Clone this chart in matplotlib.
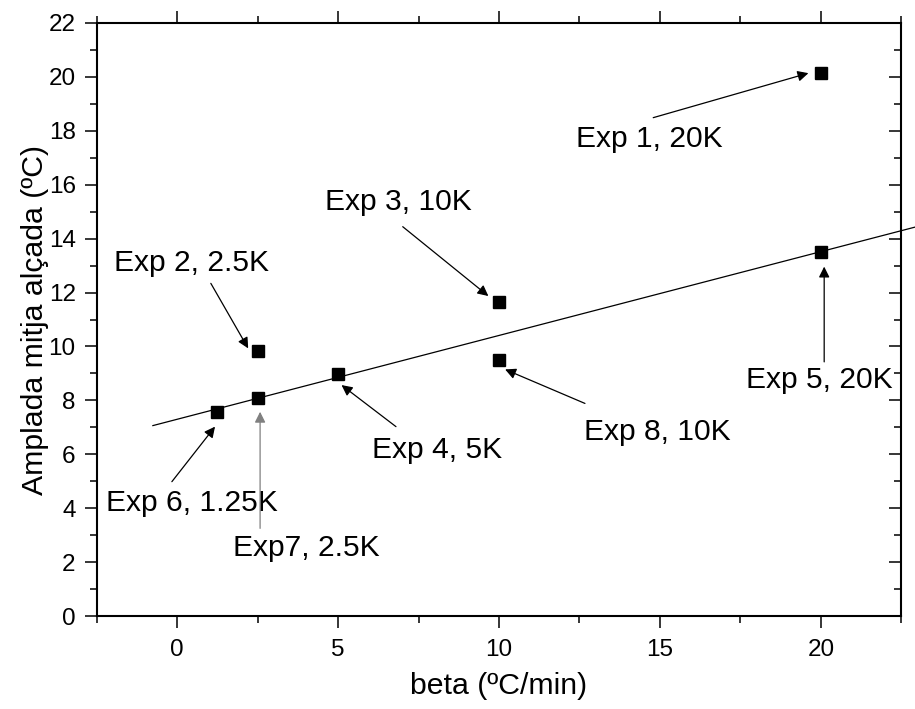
import numpy as np
import matplotlib
matplotlib.use('Agg')
import matplotlib.pyplot as plt
from matplotlib.ticker import MultipleLocator

plt.rcParams['font.family'] = ['Liberation Sans', 'DejaVu Sans']

# dades llegides del gràfic
exp_names = ['Exp 1, 20K', 'Exp 2, 2.5K', 'Exp 3, 10K', 'Exp 4, 5K',
             'Exp 5, 20K', 'Exp 6, 1.25K', 'Exp7, 2.5K', 'Exp 8, 10K']
beta = [20, 2.5, 10, 5, 20, 1.25, 2.5, 10]
amplada = [20.13, 9.84, 11.64, 8.98, 13.49, 7.57, 8.10, 9.50]
fit_idx = [3, 4, 5, 6]          # punts usats a l'ajust lineal
fit_range = [-0.75, 23.5]

# posició del text, cua i punta de cada fletxa (coordenades de dades)
text_pos = [(14.67, 17.68), (0.46, 13.08), (6.86, 15.37), (8.07, 6.16),
            (19.94, 8.76), (0.46, 4.19), (4.0, 2.52), (14.91, 6.84)]
arrow_tail = [(14.79, 18.48), (1.05, 12.34), (7.01, 14.44), (6.80, 7.03),
              (20.1, 9.43), (-0.16, 4.99), (2.58, 3.26), (12.67, 7.89)]
arrow_tip = [(19.61, 20.13), (2.21, 9.93), (9.67, 11.87), (5.11, 8.57),
             (20.1, 12.96), (1.18, 7.03), (2.58, 7.58), (10.19, 9.15)]
arrow_color = ['black'] * 6 + ['#808080', 'black']


def main():
    fig = plt.figure(figsize=(9.15, 7.09), dpi=100)
    ax = fig.add_axes([0.1055, 0.1307, 0.8797, 0.8373])

    # ajust lineal
    xs = np.array(beta)[fit_idx]
    ys = np.array(amplada)[fit_idx]
    k, b = np.polyfit(xs, ys, 1)
    fx = np.array(fit_range)
    ax.plot(fx, k * fx + b, color='black', lw=0.9, clip_on=False, zorder=2)

    ax.plot(beta, amplada, 's', color='black', ms=9, zorder=3)

    for name, tp, tail, tip, col in zip(exp_names, text_pos, arrow_tail, arrow_tip, arrow_color):
        ax.annotate('', xy=tip, xytext=tail,
                    arrowprops=dict(arrowstyle='-|>', color=col, lw=0.9,
                                    mutation_scale=16, shrinkA=0, shrinkB=0))
        ax.text(tp[0], tp[1], name, fontsize=21.6, ha='center', va='center')

    ax.set_xlim(-2.5, 22.5)
    ax.set_ylim(0, 22)
    ax.xaxis.set_major_locator(MultipleLocator(5))
    ax.xaxis.set_minor_locator(MultipleLocator(2.5))
    ax.yaxis.set_major_locator(MultipleLocator(2))
    ax.yaxis.set_minor_locator(MultipleLocator(1))

    for sp in ax.spines.values():
        sp.set_linewidth(1.5)

    ax.tick_params(which='both', labelsize=17.5, width=1.1)
    ax.tick_params(which='major', length=8.5)
    ax.tick_params(which='minor', length=5)
    ax.tick_params(which='both', bottom=True, left=True, top=True, right=True,
                   labeltop=False, labelright=False)
    ax.tick_params(axis='x', which='both', direction='out', pad=8)
    ax.tick_params(axis='y', which='both', direction='out', pad=6.5)
    # els ticks de la dreta van cap a dins
    for t in ax.yaxis.get_major_ticks() + ax.yaxis.get_minor_ticks():
        t.tick2line.set_marker(matplotlib.lines.TICKLEFT)

    ax.set_xlabel('beta (ºC/min)', fontsize=21.8, labelpad=8)
    ax.set_ylabel('Amplada mitja alçada (ºC)', fontsize=21.8, labelpad=0)

    fig.savefig('out.png', dpi=100)


if __name__ == '__main__':
    main()
